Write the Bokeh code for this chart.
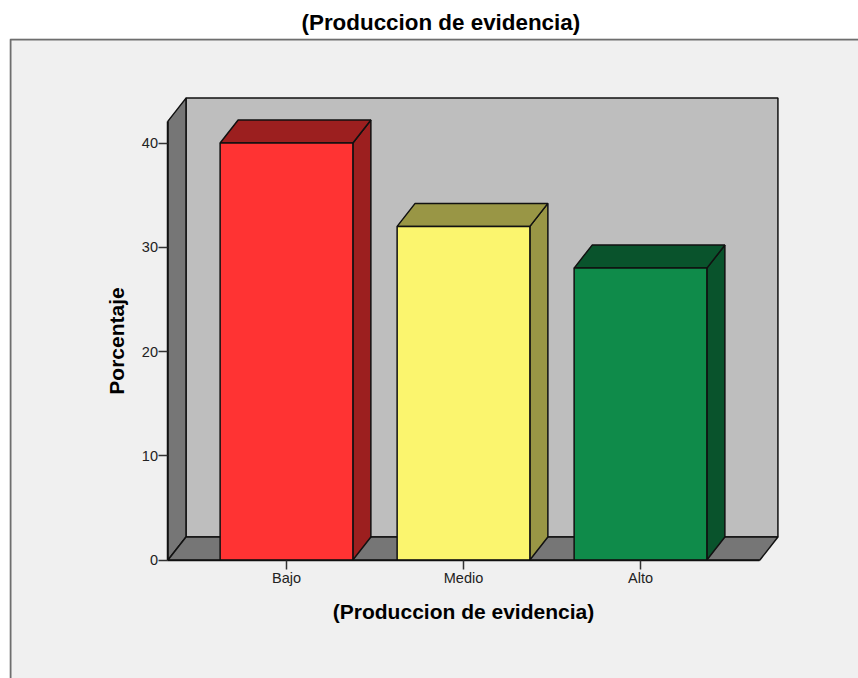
from bokeh.plotting import figure
from bokeh.models import PolyAnnotation, FixedTicker, Range1d
from bokeh.embed import file_html
from bokeh.resources import INLINE

categories = ["Bajo", "Medio", "Alto"]
values = [40, 32, 28]
front_colors = ["#FF3333", "#FBF56E", "#0F8B4A"]
shade_colors = ["#9C1F1F", "#999645", "#09532C"]
y_ticks = [0, 10, 20, 30, 40]
title_text = "(Produccion de evidencia)"
x_label = "(Produccion de evidencia)"
y_label = "Porcentaje"

# pixel scale of the reference's axes
PX_X = 177.0
PX_Y = 10.425
BAR_W = 0.75
DX = 18 / PX_X
DY = 23 / PX_Y
X0, X1 = 0.3305, 3.6747
Y_TOP = 42.1
FONT = "Liberation Sans"
positions = list(range(1, len(categories) + 1))

W, H = 858, 678
LEFT, TOP = 9, 38
CX1, Y00 = 286.0, 559.5
x_min = 1 - (CX1 - LEFT) / PX_X
x_max = 1 + (W - CX1) / PX_X
y_max = (Y00 - TOP) / PX_Y
y_min = -(H - Y00) / PX_Y

p = figure(width=W, height=H, output_backend="svg", toolbar_location=None,
           x_range=Range1d(x_min, x_max), y_range=Range1d(y_min, y_max),
           min_border_left=LEFT, min_border_right=0, min_border_top=TOP, min_border_bottom=0,
           background_fill_color="#F0F0F0", border_fill_color="#FFFFFF", outline_line_color=None)
p.grid.visible = False

FH = H - TOP
frame = PolyAnnotation(xs=[1, 1, 900, 900], ys=[-100, FH - 1, FH - 1, -100], xs_units="screen", ys_units="screen",
                       fill_alpha=0, line_color="#6E6E6E", line_alpha=1, line_width=2, level="annotation")
p.add_layout(frame)

edge = dict(line_color="#111111", line_width=1.5)
# walls
p.patch([X0 + DX, X1 + DX, X1 + DX, X0 + DX], [DY, DY, Y_TOP + DY, Y_TOP + DY], fill_color="#BEBEBE", **edge)
p.patch([X0, X0 + DX, X0 + DX, X0], [0, DY, Y_TOP + DY, Y_TOP], fill_color="#767676", **edge)
p.patch([X0, X0 + DX, X1 + DX, X1], [0, DY, DY, 0], fill_color="#767676", **edge)

# bars
for x, v, fc, sc in zip(positions, values, front_colors, shade_colors):
    l, r = x - BAR_W / 2, x + BAR_W / 2
    p.patch([r, r + DX, r + DX, r], [0, DY, v + DY, v], fill_color=sc, **edge)
    p.patch([l, l + DX, r + DX, r], [v, v + DY, v + DY, v], fill_color=sc, **edge)
    p.quad(left=[l], right=[r], bottom=[0], top=[v], fill_color=fc, **edge)

p.yaxis.ticker = FixedTicker(ticks=y_ticks)
p.yaxis.bounds = (0, Y_TOP)
p.yaxis.fixed_location = X0
p.yaxis.axis_label = y_label
p.xaxis.ticker = FixedTicker(ticks=positions)
p.xaxis.bounds = (X0, X1)
p.xaxis.fixed_location = 0
p.xaxis.major_label_overrides = dict(zip(positions, categories))
p.xaxis.axis_label = x_label
for ax in (p.xaxis, p.yaxis):
    ax.axis_line_color = "#111111"
    ax.axis_line_width = 1.5
    ax.major_tick_line_color = "#333333"
    ax.major_tick_line_width = 1.5
    ax.major_tick_out = 9
    ax.major_tick_in = 0
    ax.minor_tick_line_color = None
    ax.major_label_text_font = FONT
    ax.major_label_text_font_size = "14.5px"
    ax.major_label_text_color = "#222222"
    ax.axis_label_text_font = FONT
    ax.axis_label_text_font_style = "bold"
    ax.axis_label_text_font_size = "21px"
    ax.axis_label_text_color = "#000000"
p.xaxis.major_label_standoff = 1
p.yaxis.major_label_standoff = 1
p.yaxis.axis_label_standoff = 10
p.xaxis.axis_label_standoff = 10

p.title.text = title_text
p.title.text_font = FONT
p.title.text_font_style = "bold"
p.title.text_font_size = "22.4px"
p.title.text_color = "#000000"
p.title.align = "left"
p.title.offset = 292
p.title.standoff = 8

open("out.html", "w").write(file_html(p, INLINE))
